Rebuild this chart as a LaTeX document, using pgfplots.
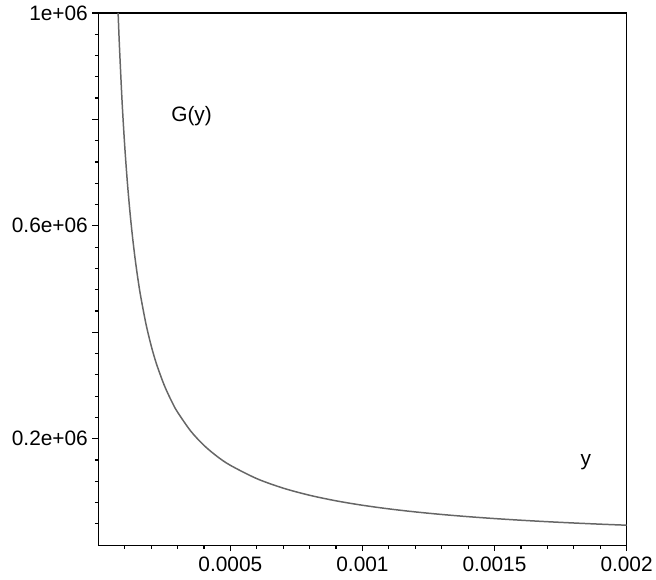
\documentclass[border=0pt]{standalone}
\usepackage{fontspec}
\setmainfont{Liberation Sans}
\usepackage{pgfplots}
\pgfplotsset{compat=1.18}
\usetikzlibrary{calc}

\pgfplotstableread{
y G
0.000075 1000000
0.00008 937500
0.00009 833333
0.0001 750000
0.00011 681818
0.00012 625000
0.00013 576923
0.00014 535714
0.00015 500000
0.00016 468750
0.00018 416667
0.0002 375000
0.00022 340909
0.00025 300000
0.00028 267857
0.0003 250000
0.00035 214286
0.0004 187500
0.00045 166667
0.0005 150000
0.0006 125000
0.0007 107143
0.0008 93750
0.0009 83333
0.001 75000
0.0011 68182
0.0012 62500
0.0013 57692
0.0014 53571
0.0015 50000
0.0016 46875
0.0017 44118
0.0018 41667
0.0019 39474
0.002 37500
}\gdata

\begin{document}
\begin{tikzpicture}
\begin{axis}[
  scale only axis, width=532pt, height=536pt,
  xmin=0, xmax=0.002, ymin=0, ymax=1000000,
  scaled ticks=false,
  axis line style={line width=1.3pt},
  tick align=outside, xtick pos=bottom, ytick pos=left,
  major tick length=6pt, minor tick length=3.5pt,
  every tick/.style={black, line width=1.2pt},
  xtick={0.0005,0.001,0.0015,0.002},
  xticklabels={0.0005,0.001,0.0015,0.002},
  minor xtick={0.0001,0.0002,0.0003,0.0004,0.0006,0.0007,0.0008,0.0009,0.0011,0.0012,0.0013,0.0014,0.0016,0.0017,0.0018,0.0019},
  ytick={200000,400000,600000,800000,1000000},
  yticklabels={0.2e+06,,0.6e+06,,1e+06},
  minor ytick={40000,80000,120000,160000,240000,280000,320000,360000,440000,480000,520000,560000,640000,680000,720000,760000,840000,880000,920000,960000},
  tick label style={font=\fontsize{21}{24}\selectfont},
  yticklabel style={xshift=-1pt},
  xticklabel style={yshift=-2pt},
  clip=true,
]
\addplot[draw=black!60, line width=1.5pt, smooth] table[x=y, y=G] {\gdata};
\node[font=\fontsize{21}{24}\selectfont] at (axis cs:0.000353,806000) {G(y)};
\node[font=\fontsize{21}{24}\selectfont] at (axis cs:0.001846,156700) {y};
\coordinate (ll) at (rel axis cs:0,0);
\coordinate (ur) at (rel axis cs:1,1);
\end{axis}
\path ($(ll)+(-99pt,-35pt)$) rectangle ($(ur)+(25pt,13pt)$);
\end{tikzpicture}
\end{document}
